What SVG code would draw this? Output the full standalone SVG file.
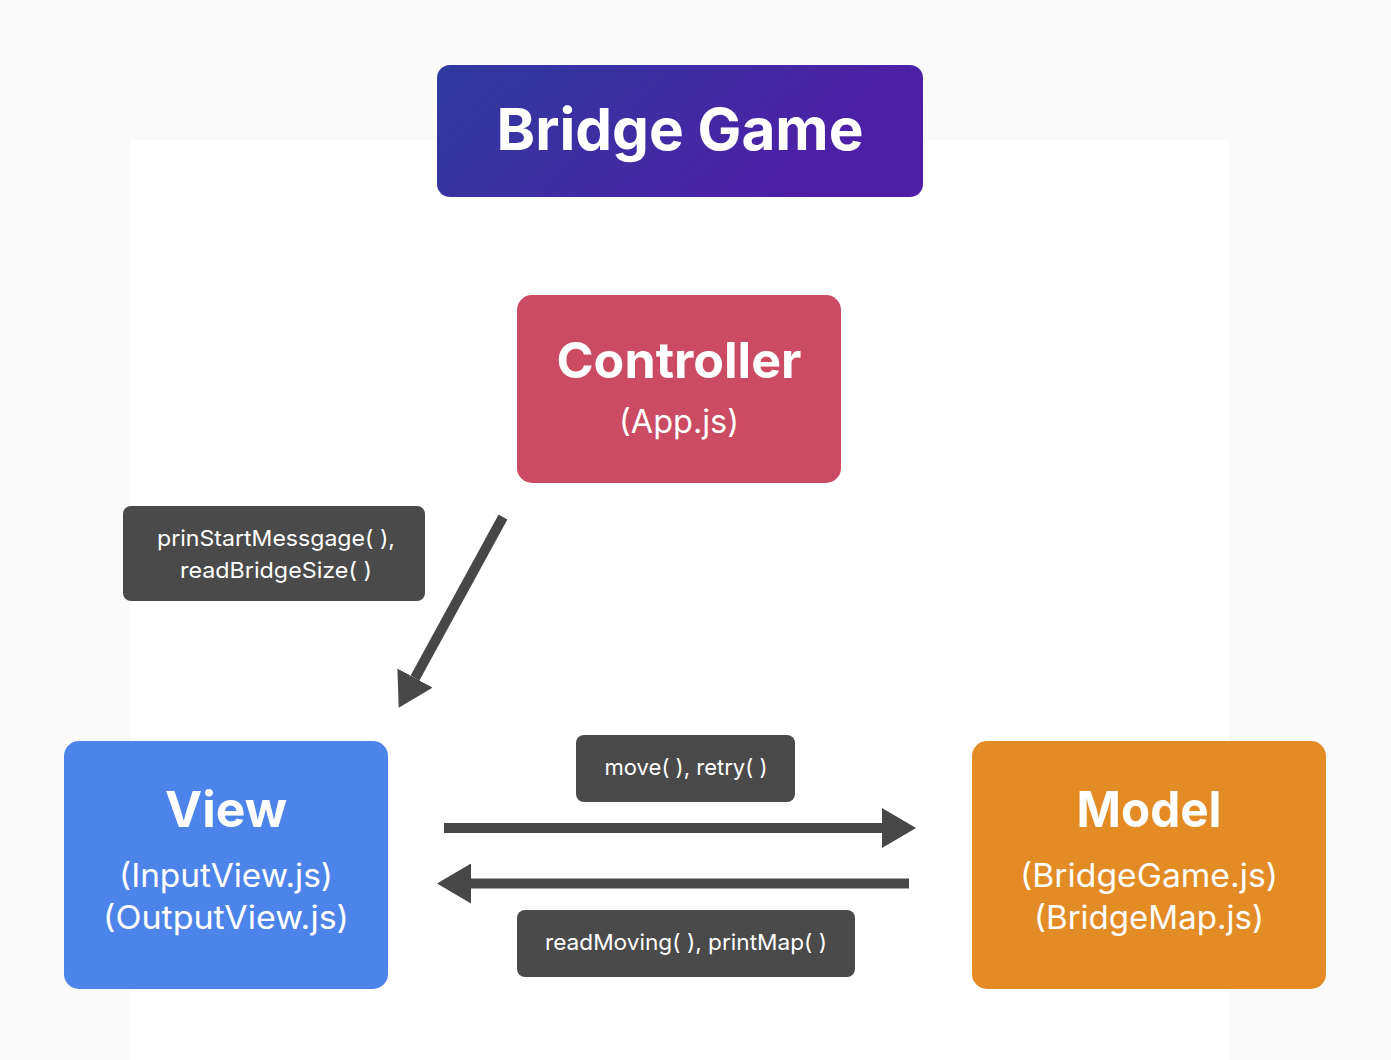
<svg xmlns="http://www.w3.org/2000/svg" width="1391" height="1060" viewBox="0 0 1391 1060">
  <defs>
    <linearGradient id="titleGrad" x1="0" y1="0" x2="1" y2="0.3">
      <stop offset="0" stop-color="#2f3b9e"/>
      <stop offset="1" stop-color="#4f1ea7"/>
    </linearGradient>
    <marker id="head" markerUnits="userSpaceOnUse" markerWidth="35" markerHeight="40" refX="0" refY="20" orient="auto">
      <path d="M0,0 L34,20 L0,40 z" fill="#474747"/>
    </marker>
    <style>
      .bold { font-family: Inter, "Noto Sans", "Liberation Sans", sans-serif; font-weight: 700; fill: #ffffff; text-anchor: middle; }
      .sub { font-family: Inter, "Noto Sans", "Liberation Sans", sans-serif; font-weight: 400; fill: #ffffff; text-anchor: middle; font-size: 32px; }
      .lbl { font-family: Inter, "Noto Sans", "Liberation Sans", sans-serif; font-weight: 400; fill: #ffffff; text-anchor: middle; font-size: 22px; }
      .lblbox { fill: #4a4a4a; }
      .conn { stroke: #474747; stroke-width: 10; fill: none; marker-end: url(#head); }
    </style>
  </defs>

  <rect x="0" y="0" width="1391" height="1060" fill="#fafafa"/>
  <rect x="130" y="140" width="1099" height="920" fill="#ffffff"/>

  <g id="title">
    <rect x="437" y="65" width="486" height="132" rx="13" fill="url(#titleGrad)"/>
    <text class="bold" x="680" y="150" font-size="58" textLength="367" lengthAdjust="spacingAndGlyphs">Bridge Game</text>
  </g>

  <g id="controller">
    <rect x="517" y="295" width="324" height="188" rx="15" fill="#cb4b63"/>
    <text class="bold" x="679" y="378" font-size="50" textLength="245" lengthAdjust="spacingAndGlyphs">Controller</text>
    <text class="sub" x="679" y="433" textLength="120" lengthAdjust="spacingAndGlyphs">(App.js)</text>
  </g>

  <g id="view">
    <rect x="64" y="741" width="324" height="248" rx="15" fill="#4d84e9"/>
    <text class="bold" x="226" y="827" font-size="50" textLength="122" lengthAdjust="spacingAndGlyphs">View</text>
    <text class="sub" x="226" y="887" textLength="214" lengthAdjust="spacingAndGlyphs">(InputView.js)</text>
    <text class="sub" x="226" y="929" textLength="246" lengthAdjust="spacingAndGlyphs">(OutputView.js)</text>
  </g>

  <g id="model">
    <rect x="972" y="741" width="354" height="248" rx="15" fill="#e38b25"/>
    <text class="bold" x="1149" y="827" font-size="50" textLength="145" lengthAdjust="spacingAndGlyphs">Model</text>
    <text class="sub" x="1149" y="887" textLength="258" lengthAdjust="spacingAndGlyphs">(BridgeGame.js)</text>
    <text class="sub" x="1149" y="929" textLength="230" lengthAdjust="spacingAndGlyphs">(BridgeMap.js)</text>
  </g>

  <g id="connectors">
    <line class="conn" x1="503" y1="517" x2="415" y2="678"/>
    <line class="conn" x1="444" y1="828" x2="882" y2="828"/>
    <line class="conn" x1="909" y1="883.5" x2="471" y2="883.5"/>
  </g>

  <g id="label-start">
    <rect class="lblbox" x="123" y="506" width="302" height="95" rx="8"/>
    <text class="lbl" x="276" y="546" textLength="238" lengthAdjust="spacingAndGlyphs">prinStartMessgage( ),</text>
    <text class="lbl" x="276" y="578" textLength="192" lengthAdjust="spacingAndGlyphs">readBridgeSize( )</text>
  </g>

  <g id="label-move">
    <rect class="lblbox" x="576" y="735" width="219" height="67" rx="8"/>
    <text class="lbl" x="686" y="775" textLength="163" lengthAdjust="spacingAndGlyphs">move( ), retry( )</text>
  </g>

  <g id="label-read">
    <rect class="lblbox" x="517" y="910" width="338" height="67" rx="8"/>
    <text class="lbl" x="686" y="950" textLength="282" lengthAdjust="spacingAndGlyphs">readMoving( ), printMap( )</text>
  </g>
</svg>
